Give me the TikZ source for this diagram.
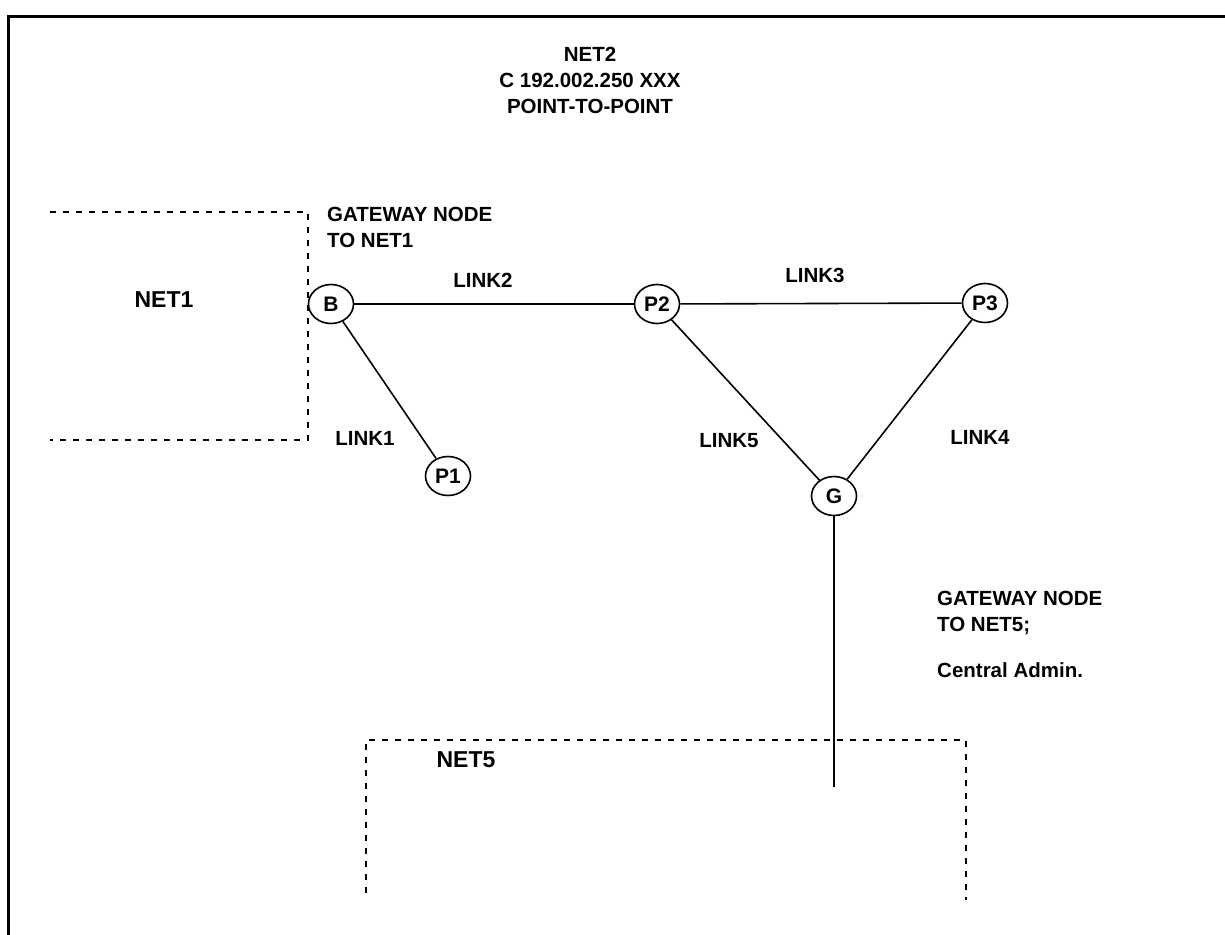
\documentclass[tikz,border=0pt]{standalone}
\usepackage{fontspec}
\setmainfont{Liberation Sans}
\usetikzlibrary{shapes.geometric}
\tikzset{
  host/.style={ellipse,draw,line width=1.6pt,minimum width=45pt,minimum height=39pt,inner sep=0pt,font=\fontsize{21}{24}\selectfont\bfseries},
  lbl/.style={font=\fontsize{20.5}{26}\selectfont\bfseries,inner sep=0pt},
  biglbl/.style={font=\fontsize{23}{28}\selectfont\bfseries,inner sep=0pt},
  link/.style={line width=1.6pt},
  netedge/.style={line width=1.4pt,dash pattern=on 6pt off 7pt},
  frame/.style={line width=3pt}
}
\begin{document}
\begin{tikzpicture}[x=1pt,y=-1pt]
\useasboundingbox (0,0) rectangle (1225,934);
\clip (0,0) rectangle (1225,934);
% frame
\draw[frame] (8,960) -- (8,17) -- (1240,17);
% NET2 title
\node[lbl,align=center] (net2) at (590,80) {NET2\\C 192.002.250 XXX\\POINT-TO-POINT};
% NET1 region
\coordinate (n1a) at (50,212);
\coordinate (n1b) at (308,212);
\coordinate (n1c) at (308,440);
\coordinate (n1d) at (50,440);
\draw[netedge] (n1a) -- (n1b) -- (n1c) -- (n1d);
\node[biglbl] (net1) at (164,300) {NET1};
\node[lbl,anchor=west,align=left] (gw1) at (327,227) {GATEWAY NODE\\TO NET1};
% NET5 region
\coordinate (n5a) at (366,893);
\coordinate (n5b) at (366,740);
\coordinate (n5c) at (966,740);
\coordinate (n5d) at (966,900);
\draw[netedge] (n5a) -- (n5b) -- (n5c) -- (n5d);
\node[biglbl] (net5) at (466,760) {NET5};
% hosts
\node[host] (B) at (331,304) {B};
\node[host] (P1) at (448,476) {P1};
\node[host] (P2) at (657,304) {P2};
\node[host] (P3) at (985,303) {P3};
\node[host] (G) at (834,496) {G};
% links
\draw[link] (B) -- (P2);
\draw[link] (B) -- (P1);
\draw[link] (P2) -- (P3);
\draw[link] (P2) -- (G);
\draw[link] (P3) -- (G);
\coordinate (g5) at (834,787);
\draw[link] (G) -- (g5);
% link labels
\node[lbl] (l2) at (483,280) {LINK2};
\node[lbl] (l3) at (815,275) {LINK3};
\node[lbl] (l1) at (365,438) {LINK1};
\node[lbl] (l5) at (729,441) {LINK5};
\node[lbl] (l4) at (980,437) {LINK4};
% gateway G
\node[lbl,anchor=north west,align=left] (gw5) at (937,591) {GATEWAY NODE\\TO NET5;};
\node[lbl,anchor=west] (ca) at (937,670) {Central Admin.};
\end{tikzpicture}
\end{document}
